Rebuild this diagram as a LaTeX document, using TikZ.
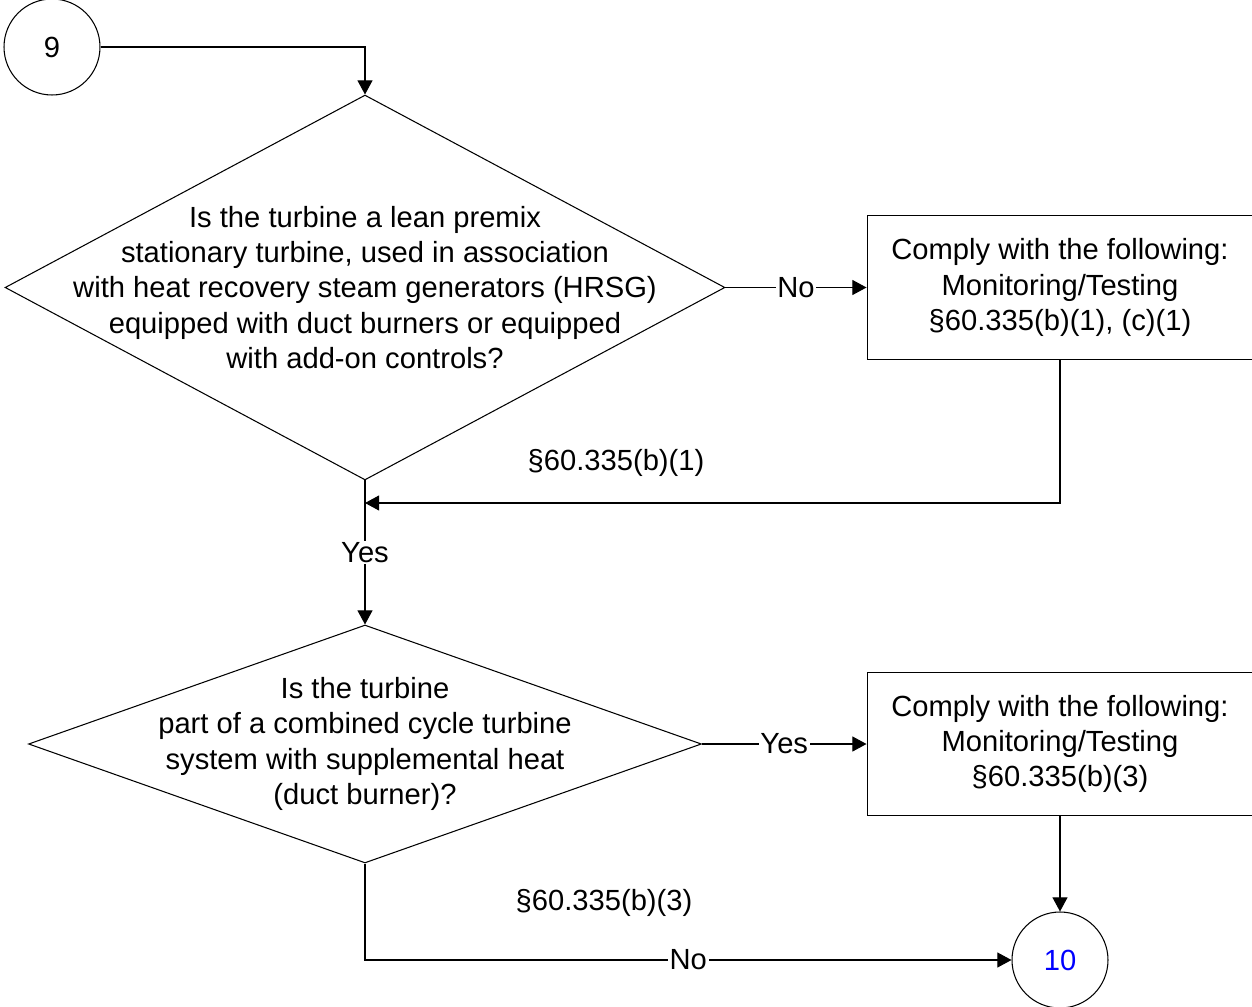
\documentclass[tikz,border=0pt]{standalone}
\usepackage{fontspec}
\setmainfont{Liberation Sans}
\usetikzlibrary{shapes.geometric,arrows.meta}
\begin{document}
\begin{tikzpicture}[x=0.02cm, y=-0.02cm, line width=0.6pt,
        font=\fontsize{16.6}{20.1}\selectfont,
        conn/.style={draw, circle, minimum size=1.92cm, inner sep=0pt},
        dec/.style={draw, diamond, inner sep=0pt},
        act/.style={draw, rectangle, minimum width=7.72cm, align=center},
        lbl/.style={fill=white, inner sep=1pt},
        arr/.style={-{Triangle[length=8pt,width=8.5pt]}}]
        \useasboundingbox (0,0) rectangle (1252,1007);

        \node[conn] (N9) at (52,47) {9};
        \node[dec, minimum width=14.4cm, minimum height=7.7cm] (D1) at (365,287.5) {};
        \node[align=center] (T1) at (D1) {Is the turbine a lean premix\\ stationary turbine, used in association\\ with heat recovery steam generators (HRSG)\\ equipped with duct burners or equipped\\ with add-on controls?};
        \node[act, minimum height=2.88cm] (B1) at (1060,287.5) {Comply with the following:\\ Monitoring/Testing\\ §60.335(b)(1), (c)(1)};
        \coordinate (C1) at (365,503);
        \node (L1) at (616,463) {§60.335(b)(1)};

        \node[dec, minimum width=13.46cm, minimum height=4.76cm] (D2) at (365,744) {};
        \node[align=center] (T2) at (D2) {Is the turbine\\ part of a combined cycle turbine\\ system with supplemental heat\\ (duct burner)?};
        \node[act, minimum height=2.86cm] (B2) at (1060,744) {Comply with the following:\\ Monitoring/Testing\\ §60.335(b)(3)};
        \node (L2) at (604,903) {§60.335(b)(3)};
        \node[conn, text=blue] (N10) at (1060,960) {10};

        % Edges
        \draw[arr] (N9) -| (D1);
        \draw[arr] (D1.east) -- node[lbl] {No} (B1.west);
        \draw[arr] (B1.south) |- (C1);
        \draw[arr] (D1.south) -- node[lbl] {Yes} (D2.north);
        \draw[arr] (D2.east) -- node[lbl] {Yes} (B2.west);
        \draw[arr] (B2.south) -- (N10.north);
        \draw[arr] (D2.south) |- node[lbl, pos=0.75] {No} (N10.west);
        \end{tikzpicture}
\end{document}
